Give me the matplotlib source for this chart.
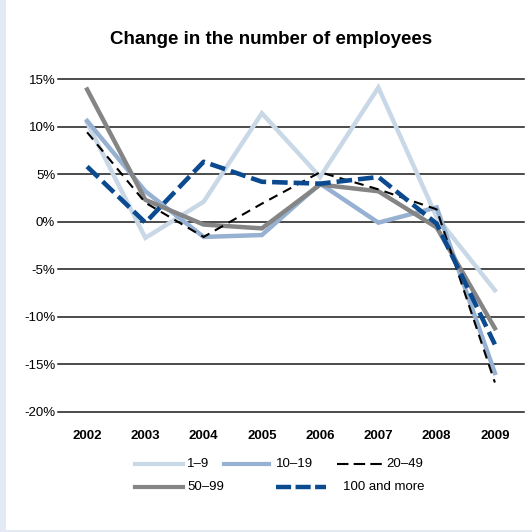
import numpy as np
import matplotlib.pyplot as plt
from matplotlib.lines import Line2D
from matplotlib.patches import Rectangle

plt.rcParams['font.family'] = ['Liberation Sans', 'DejaVu Sans']

years = ['2002', '2003', '2004', '2005', '2006', '2007', '2008', '2009']
yticks = [-20, -15, -10, -5, 0, 5, 10, 15]
ytick_labels = ['-20%', '-15%', '-10%', '-5%', '0%', '5%', '10%', '15%']

size_1_9 = [10.4, -1.7, 2.1, 11.4, 4.7, 14.1, 0.5, -7.2]
size_10_19 = [10.6, 3.2, -1.6, -1.4, 4.0, -0.1, 1.5, -15.9]
size_20_49 = [9.4, 2.0, -1.6, 1.9, 5.2, 3.4, 1.3, -16.9]
size_50_99 = [13.9, 2.3, -0.3, -0.7, 3.9, 3.2, -0.6, -11.2]
size_100 = [5.8, -0.1, 6.3, 4.2, 4.0, 4.7, -0.2, -12.9]

W, H = 532, 532
fig = plt.figure(figsize=(5.32, 5.32), dpi=100, facecolor='#e4eaf3')
# white panel
fig.add_artist(Rectangle((6 / W, 2 / H), 1 - 6 / W, 1 - 2 / H, transform=fig.transFigure,
                         facecolor='white', edgecolor='none', zorder=0))

ax = fig.add_axes([58 / W, (H - 412) / H, (524 - 58) / W, (412 - 79) / H])
ax.set_facecolor('none')
x = np.arange(len(years))

c_light = '#c9d8e7'
c_mid = '#97b1d2'
c_gray = '#858585'
c_blue = '#0b4a8e'

ax.plot(x, size_1_9, color=c_light, lw=3.2, solid_joinstyle='miter', zorder=3)
ax.plot(x, size_10_19, color=c_mid, lw=3.2, solid_joinstyle='miter', zorder=4)
ax.plot(x, size_50_99, color=c_gray, lw=3.2, solid_joinstyle='miter', zorder=5)
ax.plot(x, size_20_49, color='black', lw=1.5, dashes=(4.5, 3), zorder=6)
ax.plot(x, size_100, color=c_blue, lw=3.3, dashes=(3.4, 1.3), zorder=7)

for v in yticks:
    ax.axhline(v, color='#1a1a1a', lw=1.1, zorder=2, clip_on=False)

ax.set_xlim(-0.5, 7.5)
ax.set_ylim(-20, 15)
ax.set_xticks(x)
ax.set_xticklabels(years, fontsize=9.5, fontweight='bold')
ax.set_yticks(yticks)
ax.set_yticklabels(ytick_labels, fontsize=9.5)
ax.tick_params(axis='x', length=0, pad=13)
ax.tick_params(axis='y', length=0, pad=2)
for s in ax.spines.values():
    s.set_visible(False)

fig.text(271 / W, 1 - 40 / H, 'Change in the number of employees', ha='center', va='center',
         fontsize=13.5, fontweight='bold')

# legend
legend_items = [
    ('1–9', dict(color=c_light, lw=3), 135, 183, 187, 464),
    ('10–19', dict(color=c_mid, lw=3), 224, 269, 276, 464),
    ('20–49', dict(color='black', lw=1.5, dashes=(5.5, 2.5)), 337, 383, 386, 464),
    ('50–99', dict(color=c_gray, lw=3), 135, 183, 187, 487),
    ('100 and more', dict(color=c_blue, lw=3.2, dashes=(3.4, 1.0)), 276, 326, 343, 487),
]
for label, style, x0, x1, tx, y in legend_items:
    fig.add_artist(Line2D([x0 / W, x1 / W], [1 - y / H, 1 - y / H], transform=fig.transFigure, **style))
    fig.text(tx / W, 1 - y / H, label, ha='left', va='center', fontsize=9.5)

fig.savefig('out.png', dpi=100, facecolor=fig.get_facecolor())
